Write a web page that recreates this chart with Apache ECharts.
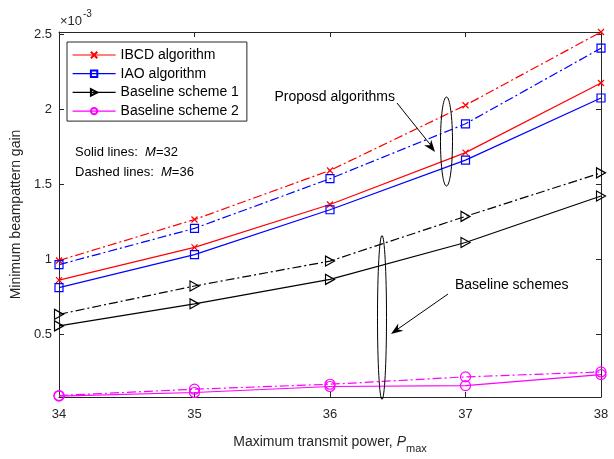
<!DOCTYPE html>
<html>
<head>
<meta charset="utf-8">
<script src="https://cdn.jsdelivr.net/npm/echarts@6/dist/echarts.min.js"></script>
<style>html,body{margin:0;padding:0;background:#fff}#c{width:614px;height:459px}</style>
</head>
<body>
<div id="c"></div>
<script>
// ---- data (values in units of 1e-3) ----
const xValues = [34, 35, 36, 37, 38];
const yTicks = [0.5, 1, 1.5, 2, 2.5];
const legendNames = ['IBCD algorithm', 'IAO algorithm', 'Baseline scheme 1', 'Baseline scheme 2'];
const ibcdSolid  = [0.859, 1.077, 1.363, 1.709, 2.173];
const ibcdDashed = [0.99, 1.263, 1.59, 2.025, 2.513];
const iaoSolid   = [0.809, 1.029, 1.328, 1.659, 2.073];
const iaoDashed  = [0.962, 1.204, 1.535, 1.901, 2.405];
const base1Solid  = [0.554, 0.701, 0.864, 1.110, 1.420];
const base1Dashed = [0.631, 0.820, 0.986, 1.284, 1.574];
const base2Solid  = [0.086, 0.110, 0.150, 0.156, 0.229];
const base2Dashed = [0.090, 0.132, 0.165, 0.214, 0.247];
const yMin = 0.08, yMax = 2.513;

const FONT = 'Liberation Sans, Arial, Helvetica, sans-serif';
const AX = '#262626';
const dashDot = [9, 3, 2, 3];

const crossPath = 'path://M0,0L10,10M10,0L0,10';
const triPath = 'path://M0,0L10,5L0,10Z';

function mk(name, vals, color, symbol, size, dashed) {
  return {
    type: 'line', name: name,
    data: xValues.map((x, i) => [x, vals[i]]),
    symbol: symbol, symbolSize: size, showAllSymbol: true, clip: false,
    lineStyle: { color: color, width: 1.2, type: dashed ? dashDot : 'solid' },
    itemStyle: { color: 'rgba(255,255,255,0)', borderColor: color, borderWidth: 1.2 },
    emphasis: { disabled: true },
    z: 3
  };
}

const series = [
  mk(legendNames[0], ibcdSolid, '#ff0000', crossPath, 6, false),
  mk(legendNames[1], iaoSolid, '#0000ff', 'rect', 8, false),
  mk(legendNames[2], base1Solid, '#000000', triPath, [9, 10], false),
  mk(legendNames[3], base2Solid, '#ff00ff', 'circle', 10, false),
  mk(legendNames[0], ibcdDashed, '#ff0000', crossPath, 6, true),
  mk(legendNames[1], iaoDashed, '#0000ff', 'rect', 8, true),
  mk(legendNames[2], base1Dashed, '#000000', triPath, [9, 10], true),
  mk(legendNames[3], base2Dashed, '#ff00ff', 'circle', 10, true)
];

function arrowHead(tx, ty, fx, fy) {
  const dx = tx - fx, dy = ty - fy, len = Math.hypot(dx, dy);
  const ux = dx / len, uy = dy / len, nx = -uy, ny = ux;
  const L = 12, W = 4.5;
  return [[tx, ty], [tx - L * ux + W * nx, ty - L * uy + W * ny], [tx - 0.7 * L * ux, ty - 0.7 * L * uy], [tx - L * ux - W * nx, ty - L * uy - W * ny]];
}

const axisCommon = {
  axisLine: { show: true, onZero: false, lineStyle: { color: AX, width: 1 } },
  axisTick: { show: true, inside: true, length: 5, lineStyle: { color: AX, width: 1 } },
  splitLine: { show: false }
};

const option = {
  animation: false,
  backgroundColor: '#fff',
  textStyle: { fontFamily: FONT },
  grid: { left: 59, right: 13, top: 32, bottom: 55 },
  legend: {
    data: legendNames, orient: 'vertical', left: 67, top: 42,
    itemWidth: 43, itemHeight: 8, itemGap: 4.7,
    padding: [6, 8, 3, 5],
    borderColor: AX, borderWidth: 1, backgroundColor: '#fff',
    lineStyle: { width: 1.2 },
    textStyle: { fontSize: 14, color: '#000', fontFamily: FONT, lineHeight: 14 },
    selectedMode: false
  },
  xAxis: [
    Object.assign({}, axisCommon, {
      type: 'value', min: 34, max: 38, interval: 1, position: 'bottom',
      axisLabel: { fontSize: 13, color: AX, margin: 11, fontFamily: FONT },
      name: '{a|Maximum transmit power, }{b|P}{c|max}',
      nameLocation: 'middle', nameGap: 34,
      nameTextStyle: {
        color: AX, fontFamily: FONT,
        rich: {
          a: { fontSize: 14, color: AX, fontFamily: FONT },
          b: { fontSize: 14, color: AX, fontStyle: 'italic', fontFamily: FONT },
          c: { fontSize: 11, color: AX, fontFamily: FONT, padding: [12, 0, 0, 0] }
        }
      }
    }),
    Object.assign({}, axisCommon, {
      type: 'value', min: 34, max: 38, interval: 1, position: 'top',
      axisLabel: { show: false }
    })
  ],
  yAxis: [
    Object.assign({}, axisCommon, {
      type: 'value', min: yMin, max: yMax, position: 'left',
      axisTick: { show: true, inside: true, length: 5, lineStyle: { color: AX, width: 1 }, customValues: yTicks },
      axisLabel: { fontSize: 13, color: AX, margin: 7, fontFamily: FONT, customValues: yTicks },
      name: 'Minimum beampattern gain', nameLocation: 'middle', nameGap: 22,
      nameTextStyle: { fontSize: 14, color: AX, fontFamily: FONT }
    }),
    Object.assign({}, axisCommon, {
      type: 'value', min: yMin, max: yMax, position: 'right',
      axisTick: { show: true, inside: true, length: 5, lineStyle: { color: AX, width: 1 }, customValues: yTicks },
      axisLabel: { show: false }
    })
  ],
  series: series,
  graphic: [
    { type: 'text', left: 60, top: 15, style: { text: '×10', fill: AX, font: '13px ' + FONT } },
    { type: 'text', left: 83, top: 9, style: { text: '-3', fill: AX, font: '10px ' + FONT } },
    { type: 'text', x: 75, y: 152, style: { text: '{a|Solid lines:  }{b|M}{a|=32}', fill: '#000', verticalAlign: 'middle', rich: { a: { font: '13px ' + FONT }, b: { font: 'italic 13px ' + FONT } } } },
    { type: 'text', x: 75, y: 172, style: { text: '{a|Dashed lines:  }{b|M}{a|=36}', fill: '#000', verticalAlign: 'middle', rich: { a: { font: '13px ' + FONT }, b: { font: 'italic 13px ' + FONT } } } },
    { type: 'text', x: 395, y: 97, style: { text: 'Proposd algorithms', fill: '#000', font: '14px ' + FONT, align: 'right', verticalAlign: 'middle' } },
    { type: 'text', x: 455, y: 285, style: { text: 'Baseline schemes', fill: '#000', font: '14px ' + FONT, align: 'left', verticalAlign: 'middle' } },
    { type: 'ellipse', shape: { cx: 446.5, cy: 141.5, rx: 6, ry: 44.5 }, style: { fill: 'none', stroke: '#000', lineWidth: 1 }, z: 10 },
    { type: 'ellipse', shape: { cx: 382, cy: 317.5, rx: 4.5, ry: 82 }, style: { fill: 'none', stroke: '#000', lineWidth: 1 }, z: 10 },
    { type: 'line', shape: { x1: 397, y1: 103, x2: 433, y2: 148 }, style: { stroke: '#000', lineWidth: 1 }, z: 10 },
    { type: 'polygon', shape: { points: arrowHead(435, 152, 397, 103) }, style: { fill: '#000' }, z: 10 },
    { type: 'line', shape: { x1: 448, y1: 294, x2: 395, y2: 331 }, style: { stroke: '#000', lineWidth: 1 }, z: 10 },
    { type: 'polygon', shape: { points: arrowHead(391, 334, 448, 294) }, style: { fill: '#000' }, z: 10 }
  ]
};

const chart = echarts.init(document.getElementById('c'), null, { renderer: 'canvas' });
chart.setOption(option);
</script>
</body>
</html>
